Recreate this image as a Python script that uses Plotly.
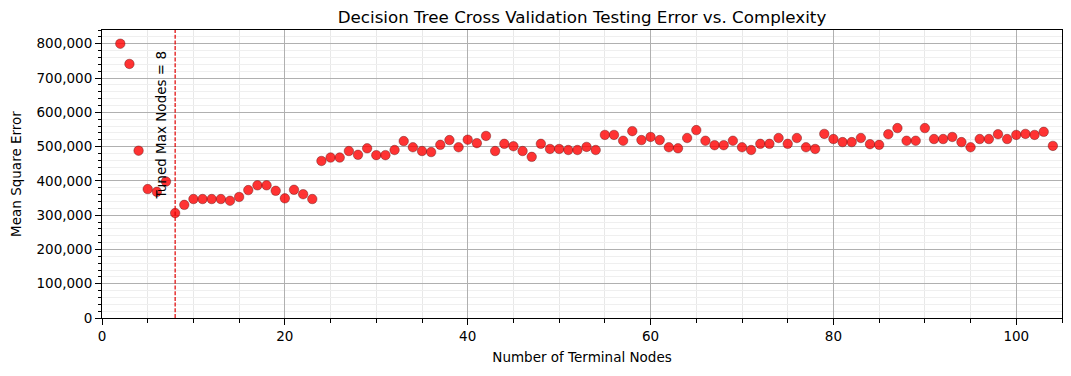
import plotly.graph_objects as go

nodes = list(range(2, 105))
mse = [
    800000, 741000, 488000, 376000, 368000, 398000, 306000, 330000, 347000, 347000,
    347000, 347000, 342000, 353000, 373000, 387000, 387000, 371000, 349000, 374000,
    361000, 347000, 458000, 468000, 468000, 487000, 476000, 495000, 475000, 475000,
    490000, 516000, 498000, 487000, 484000, 505000, 519000, 498000, 520000, 510000,
    531000, 487000, 508000, 501000, 487000, 470000, 508000, 493000, 493000, 490000,
    490000, 499000, 490000, 534000, 534000, 517000, 545000, 519000, 528000, 519000,
    498000, 495000, 525000, 548000, 517000, 504000, 504000, 517000, 498000, 490000,
    508000, 508000, 525000, 508000, 525000, 498000, 493000, 537000, 522000, 513000,
    513000, 525000, 507000, 505000, 536000, 554000, 517000, 517000, 554000, 522000,
    522000, 528000, 513000, 498000, 522000, 522000, 536000, 522000, 534000, 537000,
    534000, 543000, 502000,
]
tuned_nodes = 8
title = "Decision Tree Cross Validation Testing Error vs. Complexity"
x_title = "Number of Terminal Nodes"
y_title = "Mean Square Error"
annot = "Tuned Max Nodes = 8"

font = "DejaVu Sans"
fs = 13.5
fig = go.Figure()
fig.add_trace(go.Scatter(
    x=nodes, y=mse, mode="markers",
    marker=dict(size=9.5, color="rgba(255,0,0,0.8)",
                line=dict(color="rgba(90,20,20,0.7)", width=0.6)),
    showlegend=False, cliponaxis=False,
))
fig.add_shape(type="line", x0=tuned_nodes, x1=tuned_nodes, y0=0, y1=1,
              xref="x", yref="paper",
              line=dict(color="#e00000", width=1.2, dash="4px,1.7px"))
fig.add_annotation(x=6.5, y=563000, xref="x", yref="y", text=annot,
                   textangle=-90, showarrow=False,
                   xanchor="center", yanchor="middle",
                   font=dict(family=font, size=fs, color="black"))

axis_common = dict(
    showline=True, linecolor="black", linewidth=1, mirror=True,
    ticks="outside", ticklen=6, tickwidth=1, tickcolor="black",
    showgrid=True, gridcolor="#b0b0b0", gridwidth=1, zeroline=False,
    automargin=False,
    tickfont=dict(family=font, size=fs, color="black"),
)
fig.update_xaxes(
    range=[0, 105], dtick=20, tick0=0,
    title=dict(text=x_title, font=dict(family=font, size=fs, color="black"), standoff=9),
    minor=dict(dtick=5, tick0=0, showgrid=True, gridcolor="#e8e8e8", gridwidth=1,
               ticks="outside", ticklen=3.5, tickcolor="black"),
    **axis_common,
)
fig.update_yaxes(
    range=[0, 840000], dtick=100000, tick0=0, tickformat=",d",
    title=dict(text=y_title, font=dict(family=font, size=fs, color="black"), standoff=11),
    minor=dict(dtick=20000, tick0=0, showgrid=True, gridcolor="#efefef", gridwidth=1,
               ticks="outside", ticklen=3.5, tickcolor="black"),
    **axis_common,
)
fig.update_layout(
    width=1071, height=376,
    margin=dict(l=102, r=9, t=30, b=58),
    paper_bgcolor="white", plot_bgcolor="white",
    title=dict(text=title, x=0.5, xanchor="center", y=0.955, yanchor="middle",
               xref="paper",
               font=dict(family=font, size=16.7, color="black")),
)
fig.write_html("out.html", config={"displayModeBar": False},
               post_script="document.body.style.margin='0';document.body.style.padding='0';")
